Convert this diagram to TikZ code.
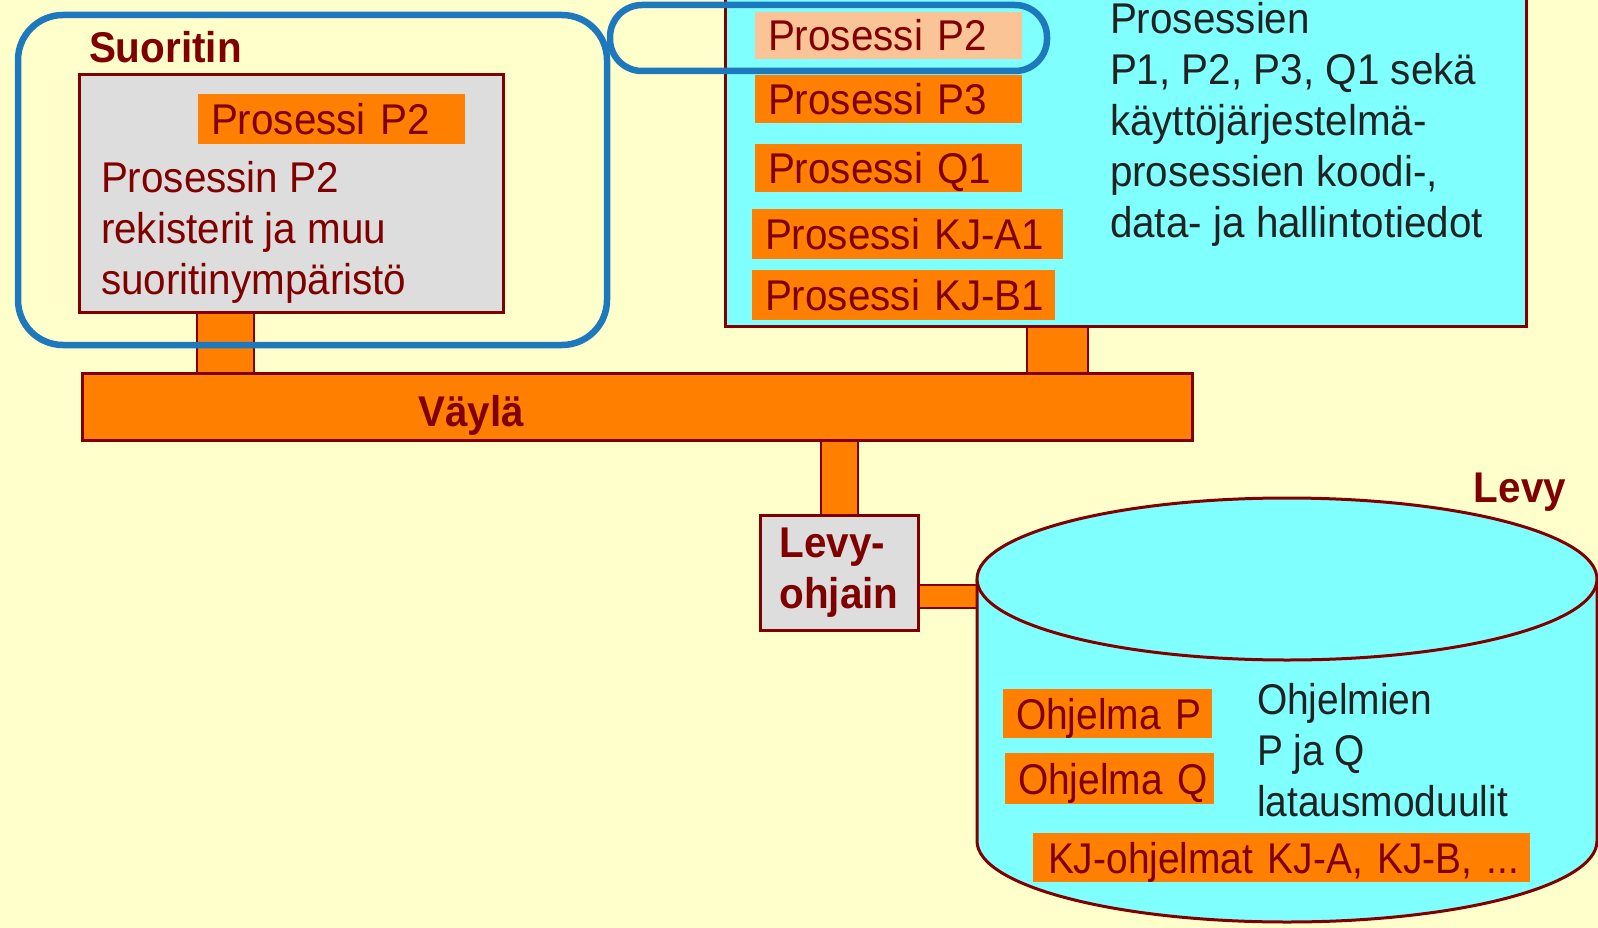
\documentclass[tikz,border=0pt]{standalone}
\usepackage{fontspec}
\setmainfont{Liberation Sans}
\newfontfamily\arialc[FakeStretch=0.94]{Liberation Sans}
\newfontfamily\arialn[FakeStretch=0.905]{Liberation Sans}
\usetikzlibrary{backgrounds}

\definecolor{bg}{HTML}{FFFFCC}
\definecolor{cyanfill}{HTML}{80FFFF}
\definecolor{orng}{HTML}{FF8000}
\definecolor{peach}{HTML}{FBC497}
\definecolor{maroon}{HTML}{800000}
\definecolor{grayfill}{HTML}{DDDDDD}
\definecolor{hl}{HTML}{1E78BE}
\definecolor{ink}{HTML}{222222}

\newcommand{\txt}{\arialc\fontsize{43}{51}\selectfont}
\newcommand{\txtn}{\arialn\fontsize{43}{51}\selectfont}
\newcommand{\txtb}{\arialc\fontsize{43}{51}\selectfont\bfseries}
\newcommand{\linesof}[2]{\begin{tabular}[t]{@{}#1@{}}#2\end{tabular}}

\begin{document}
\begin{tikzpicture}[x=1pt, y=-1pt,
  every node/.style={inner sep=0pt, outer sep=0pt},
  box/.style={draw=maroon, line width=3pt, anchor=north west},
  obox/.style={fill=orng, text=maroon, font=\txt, anchor=north west,
    inner xsep=13pt, inner ysep=0pt, align=left,
    text height=31pt, text depth=0pt},
  label/.style={font=\txtb, text=maroon},
  body/.style={font=\txt, text=ink, anchor=base west},
  stub/.style={draw=maroon, line width=2pt, double=orng, double distance=#1},
  ring/.style={draw=hl, line width=6.5pt, rounded corners=#1, anchor=north west}]

\useasboundingbox (0,0) rectangle (1598,928);

% ---- processor ----
\node[box, fill=grayfill, minimum width=424pt, minimum height=237pt] (cpu) at (79,75) {};
\node[label, anchor=base west] (cpuLabel) at (89,63) {Suoritin};
\node[obox, text width=241pt, minimum height=50pt] (cpuP2) at (198,94) {\mbox{Prosessi P2}};
\node[body, text=maroon] (cpuText) at (101,193)
  {\linesof{l}{Prosessin P2\\rekisterit ja muu\\suoritinympäristö}};

% ---- main memory ----
\node[box, fill=cyanfill, minimum width=801pt, minimum height=352pt] (mem) at (725,-26) {};
\node[obox, fill=peach, text width=241pt, minimum height=47pt] (mP2) at (755,12) {\mbox{Prosessi P2}};
\node[obox, text width=241pt, minimum height=48pt] (mP3) at (755,75) {\mbox{Prosessi P3}};
\node[obox, text width=241pt, minimum height=48pt] (mQ1) at (755,144) {\mbox{Prosessi Q1}};
\node[obox, text width=285pt, minimum height=50pt] (mKJA) at (752,209) {\mbox{Prosessi KJ-A1}};
\node[obox, text width=277pt, minimum height=50pt] (mKJB) at (752,270) {\mbox{Prosessi KJ-B1}};
\node[body] (memText) at (1110,34)
  {\linesof{l}{Prosessien\\P1, P2, P3, Q1 sekä\\käyttöjärjestelmä-\\prosessien koodi-,\\data- ja hallintotiedot}};

% ---- bus ----
\node[draw=maroon, line width=3pt, fill=orng, anchor=north west,
  minimum width=1110pt, minimum height=67pt] (bus) at (82,373) {};
\node[label, anchor=base] (busLabel) at (471,426) {Väylä};

% ---- disk controller ----
\node[box, fill=grayfill, minimum width=158pt, minimum height=115pt, font=\txtb, text=maroon]
  (ctrl) at (760,515) {\linesof{l}{Levy-\\ohjain}};

% ---- disk ----
\path[fill=cyanfill] (977,579) -- (977,841)
  arc[start angle=180, end angle=0, x radius=310, y radius=81] -- (1597,579) -- cycle;
\draw[maroon, line width=3pt] (977,579) -- (977,841)
  arc[start angle=180, end angle=0, x radius=310, y radius=81] -- (1597,579);
\draw[fill=cyanfill, draw=maroon, line width=3pt] (1287,579) ellipse[x radius=310, y radius=81];
\coordinate (diskSide) at (977,596.5);
\node[label, anchor=base east] (diskLabel) at (1566,502) {Levy};
\node[obox, font=\txtn, text width=183pt, minimum height=49pt] (progP) at (1003,689) {\mbox{Ohjelma P}};
\node[obox, font=\txtn, text width=183pt, minimum height=51pt] (progQ) at (1005,753) {\mbox{Ohjelma Q}};
\node[body, font=\txtn] (diskText) at (1257,714) {\linesof{l}{Ohjelmien\\P ja Q\\latausmoduulit}};
\node[obox, font=\txtn, inner xsep=15pt, text width=467pt, minimum height=49pt] (progKJ) at (1033,833)
  {\mbox{KJ-ohjelmat KJ-A, KJ-B, ...}};

% ---- connections to the bus ----
\coordinate (sA) at (225.5,0);
\coordinate (sB) at (1057.5,0);
\coordinate (sC) at (839.5,0);
\begin{scope}[on background layer]
  \fill[bg] (0,0) rectangle (1598,928);
  \draw[stub=55pt] (cpu.south -| sA) -- (bus.north -| sA);
  \draw[stub=59pt] (mem.south -| sB) -- (bus.north -| sB);
  \draw[stub=35pt] (bus.south -| sC) -- (ctrl.north -| sC);
  \draw[stub=21pt] (ctrl.east |- diskSide) -- (diskSide);
\end{scope}

% ---- highlight rings ----
\node[ring=45pt, minimum width=589pt, minimum height=330pt] (cpuRing) at (18,15) {};
\node[ring=32pt, minimum width=437pt, minimum height=66pt] (memRing) at (610,5) {};

\end{tikzpicture}
\end{document}
